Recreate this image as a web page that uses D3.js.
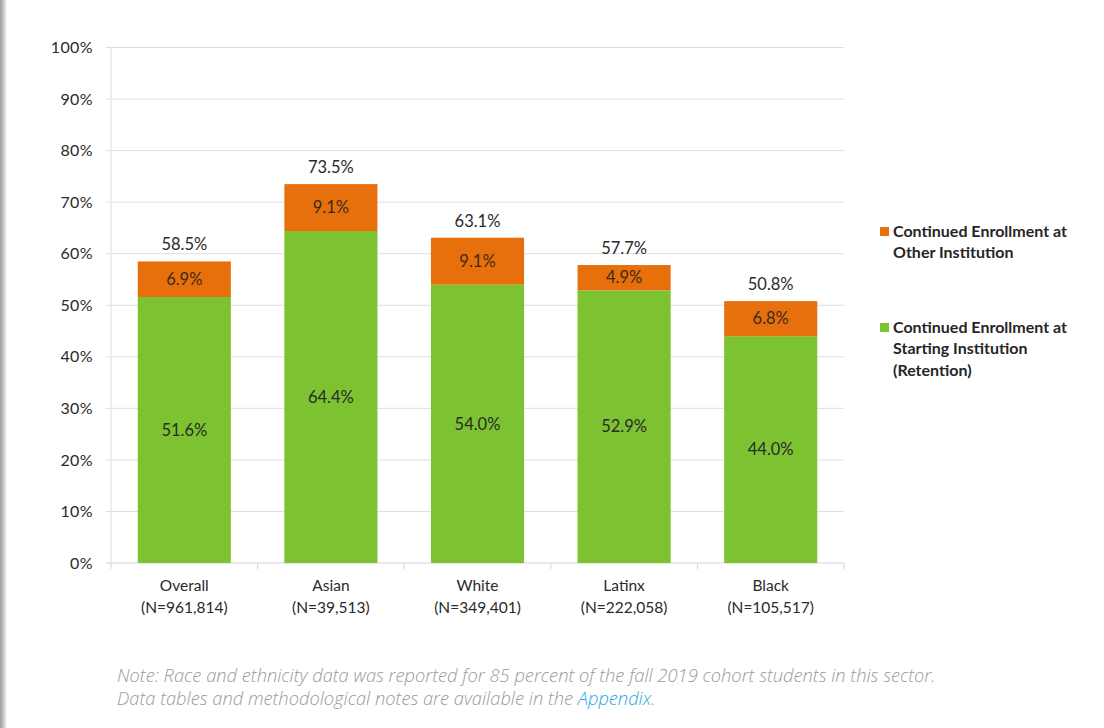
<!DOCTYPE html>
<html>
<head>
<meta charset="utf-8">
<script src="https://cdn.jsdelivr.net/npm/d3@7"></script>
<style>
  html, body { margin: 0; padding: 0; background: #fff; }
  svg { display: block; }
</style>
</head>
<body>
<script>
// Enrollment persistence by race/ethnicity
const categories = ["Overall", "Asian", "White", "Latinx", "Black"];
const counts = ["(N=961,814)", "(N=39,513)", "(N=349,401)", "(N=222,058)", "(N=105,517)"];
const retention = [51.6, 64.4, 54.0, 52.9, 44.0];
const otherInstitution = [6.9, 9.1, 9.1, 4.9, 6.8];
const totals = [58.5, 73.5, 63.1, 57.7, 50.8];
const yTicks = [0, 10, 20, 30, 40, 50, 60, 70, 80, 90, 100];
const legendItems = [
  { key: "other", lines: ["Continued Enrollment at", "Other Institution"] },
  { key: "retention", lines: ["Continued Enrollment at", "Starting Institution", "(Retention)"] }
];

const W = 1104, H = 728;
const colors = { retention: "#7dc231", other: "#e7700d" };

const svg = d3.select("body").append("svg").attr("width", W).attr("height", H);

// soft card edge on the left
const defs = svg.append("defs");
const grad = defs.append("linearGradient").attr("id", "edge").attr("x1", 0).attr("x2", 1);
grad.append("stop").attr("offset", 0).attr("stop-color", "#9a9a9a");
grad.append("stop").attr("offset", 0.6).attr("stop-color", "#d0d0d0");
grad.append("stop").attr("offset", 1).attr("stop-color", "#ffffff");
svg.append("rect").attr("x", 0).attr("y", 0).attr("width", 7).attr("height", H).attr("fill", "url(#edge)");

const x = d3.scaleBand().domain(categories).range([111, 844]).paddingInner(0.365).paddingOuter(0.1825);
const y = d3.scaleLinear().domain([0, 100]).range([563, 47.5]);

const font = "Lato, 'Open Sans', sans-serif";

// gridlines
svg.append("g").selectAll("line").data(yTicks.filter(d => d > 0)).join("line")
  .attr("x1", 106).attr("x2", 844)
  .attr("y1", d => y(d)).attr("y2", d => y(d))
  .attr("stroke", "#dedede").attr("stroke-width", 1);

// y axis
const yAxis = d3.axisLeft(y).tickValues(yTicks).tickFormat(d => d + "%").tickSize(0).tickPadding(16);
const gy = svg.append("g").attr("transform", "translate(109,0)").call(yAxis);
gy.select(".domain").remove();
gy.selectAll("text").attr("font-family", font).attr("font-size", 16)
  .attr("letter-spacing", 0.4).attr("fill", "#2a2a2a");
svg.append("line").attr("x1", 111).attr("x2", 111).attr("y1", 47.5).attr("y2", 563)
  .attr("stroke", "#dedede");

// x axis baseline and boundary ticks
svg.append("line").attr("x1", 106).attr("x2", 844).attr("y1", 563).attr("y2", 563).attr("stroke", "#d6d6d6");
const step = x.step();
svg.append("g").selectAll("line").data(d3.range(categories.length + 1)).join("line")
  .attr("x1", i => 111 + i * step).attr("x2", i => 111 + i * step)
  .attr("y1", 563).attr("y2", 569).attr("stroke", "#d6d6d6");

// stacked bars
const rows = categories.map((c, i) => ({ c, ret: retention[i], oth: otherInstitution[i], tot: totals[i], n: counts[i] }));
const g = svg.append("g");
g.selectAll("rect.ret").data(rows).join("rect").attr("class", "ret")
  .attr("x", d => x(d.c)).attr("width", x.bandwidth())
  .attr("y", d => y(d.ret)).attr("height", d => y(0) - y(d.ret))
  .attr("fill", colors.retention);
g.selectAll("rect.oth").data(rows).join("rect").attr("class", "oth")
  .attr("x", d => x(d.c)).attr("width", x.bandwidth())
  .attr("y", d => y(d.ret + d.oth)).attr("height", d => y(d.ret) - y(d.ret + d.oth))
  .attr("fill", colors.other);

const cx = d => x(d.c) + x.bandwidth() / 2;
const valueSize = 16.5;
g.selectAll("text.ret").data(rows).join("text")
  .attr("x", cx).attr("y", d => y(d.ret / 2)).attr("dy", "0.35em")
  .attr("text-anchor", "middle").attr("font-family", font).attr("font-size", valueSize)
  .attr("fill", "#2a2a2a").text(d => d.ret.toFixed(1) + "%");
g.selectAll("text.oth").data(rows).join("text")
  .attr("x", cx).attr("y", d => y(d.ret + d.oth / 2)).attr("dy", "0.35em")
  .attr("text-anchor", "middle").attr("font-family", font).attr("font-size", valueSize)
  .attr("fill", "#3a2a1a").text(d => d.oth.toFixed(1) + "%");
g.selectAll("text.tot").data(rows).join("text")
  .attr("x", cx).attr("y", d => y(d.ret + d.oth) - 11)
  .attr("text-anchor", "middle").attr("font-family", font).attr("font-size", valueSize)
  .attr("fill", "#2a2a2a").text(d => d.tot.toFixed(1) + "%");

// category labels
const lab = svg.append("g");
lab.selectAll("text.cat").data(rows).join("text")
  .attr("x", cx).attr("y", 591).attr("text-anchor", "middle")
  .attr("font-family", font).attr("font-size", 15.5).attr("fill", "#2a2a2a").text(d => d.c);
lab.selectAll("text.n").data(rows).join("text")
  .attr("x", cx).attr("y", 613).attr("text-anchor", "middle")
  .attr("font-family", font).attr("font-size", 15.5).attr("fill", "#2a2a2a").text(d => d.n);

// legend
const legendY = [231, 327];
legendItems.forEach((item, i) => {
  const lg = svg.append("g").attr("transform", `translate(880,${legendY[i]})`);
  lg.append("rect").attr("x", 0).attr("y", -4).attr("width", 9).attr("height", 9).attr("fill", colors[item.key]);
  item.lines.forEach((t, j) => {
    lg.append("text").attr("x", 13).attr("y", j * 21.5).attr("dy", "0.35em")
      .attr("font-family", font).attr("font-weight", 700).attr("font-size", 16)
      .attr("fill", "#262626").text(t);
  });
});

// footnote
const note = svg.append("text").attr("font-family", "'Open Sans', sans-serif").attr("font-style", "italic")
  .attr("font-weight", 300).attr("font-size", 18.3).attr("fill", "#9a9a9a");
note.append("tspan").attr("x", 117).attr("y", 682)
  .text("Note: Race and ethnicity data was reported for 85 percent of the fall 2019 cohort students in this sector.");
const l2 = note.append("tspan").attr("x", 117).attr("y", 705);
l2.append("tspan").text("Data tables and methodological notes are available in the ");
l2.append("tspan").attr("fill", "#2aa7df").text("Appendix");
l2.append("tspan").text(".");
</script>
</body>
</html>
